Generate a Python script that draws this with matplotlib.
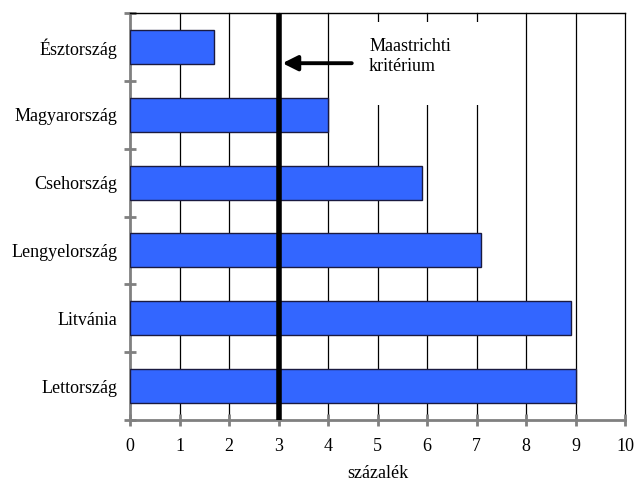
import numpy as np
import matplotlib.pyplot as plt
from matplotlib.patches import Rectangle

# Data
countries = ["Lettország", "Litvánia", "Lengyelország", "Csehország", "Magyarország", "Észtország"]
values = [9.0, 8.9, 7.1, 5.9, 4.0, 1.7]
criterion = 3
xticks = list(range(0, 11))

plt.rcParams['font.family'] = ['Liberation Serif', 'DejaVu Serif']
fs = 13

fig = plt.figure(figsize=(6.37, 4.84), dpi=100)
ax = fig.add_axes([130 / 637, 1 - 420 / 484, 495 / 637, 407 / 484])

y = np.arange(len(countries))
ax.barh(y, values, height=0.5, color='#3366FF', edgecolor='#1a1a40', linewidth=1, zorder=3)

# vertical grid lines
for x in xticks[1:]:
    ax.axvline(x, color='black', linewidth=0.9, zorder=1, clip_on=False)

# white box behind the label
ax.add_patch(Rectangle((4.55, 4.14), 2.95, 1.23, facecolor='white', edgecolor='none', zorder=2))

# Maastricht criterion line
ax.axvline(criterion, color='black', linewidth=4, zorder=4)
ax.annotate("", xy=(criterion + 0.08, 4.76), xytext=(4.48, 4.76),
            arrowprops=dict(arrowstyle='-|>,head_length=0.9,head_width=0.45',
                            color='black', lw=2.8, shrinkA=0, shrinkB=0),
            zorder=5)
ax.text(4.83, 4.86, "Maastrichti\nkritérium", fontsize=fs, va='center', ha='left',
        linespacing=1.25, zorder=5)

ax.set_xlim(0, 10)
ax.set_ylim(-0.5, len(countries) - 0.5)
ax.set_xticks(xticks)
ax.set_xticklabels([str(t) for t in xticks], fontsize=fs)
ax.set_yticks(np.arange(-0.5, len(countries), 1.0))
ax.set_yticklabels([])
ax.set_yticks(y, minor=True)
ax.set_yticklabels(countries, minor=True, fontsize=fs)
ax.tick_params(axis='y', which='minor', length=0, pad=9)
ax.tick_params(axis='y', which='major', direction='inout', length=8, width=2, color='#808080')
ax.tick_params(axis='x', direction='inout', length=8, width=2, color='#808080', pad=9)
ax.set_xlabel("százalék", fontsize=fs, labelpad=7)

ax.spines['right'].set_visible(False)
ax.spines['top'].set_color('black')
ax.spines['top'].set_linewidth(1)
for s in ['left', 'bottom']:
    ax.spines[s].set_color('#808080')
    ax.spines[s].set_linewidth(2)

fig.savefig("out.png", dpi=100)
